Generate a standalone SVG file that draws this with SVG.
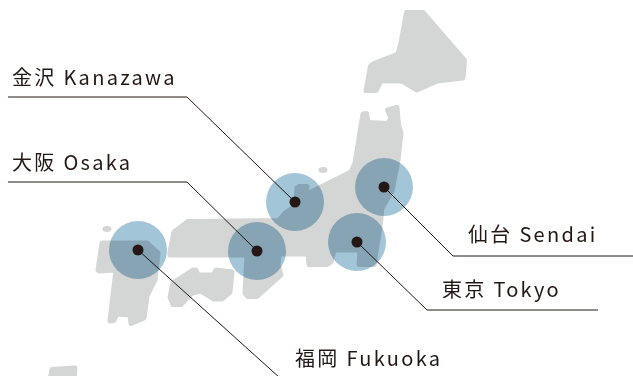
<svg xmlns="http://www.w3.org/2000/svg" width="633" height="376" viewBox="0 0 633 376">
<style>
.land{fill:#d4d5d5;stroke:#d4d5d5;stroke-width:5;stroke-linejoin:round}
.isle{fill:#d4d5d5}
.area{fill:#a3c5d8;mix-blend-mode:multiply}
.dot{fill:#231815}
.lead{fill:none;stroke:#231815;stroke-width:1}
text{font-family:"Noto Sans CJK JP","Noto Sans",sans-serif;font-size:20px;letter-spacing:2.3px;fill:#231815}
</style>
<rect width="633" height="376" fill="#fff"/>
<g id="map">
<path class="land" d="M406.500 12.500L423 12.500L464.500 60.500L463 78L437 81L417 90L402 81L381 81L376 90.500L366 90.500L370.500 66L374 63.500L398 54L401 43Z"/>
<path class="land" d="M363 114L366.500 113.500L368 122.500L388 123.500L391 118L387.500 110L397 107.500L398.500 125L401 133L398 160L392 191L382 208L380 227L374 264.500L359 264.500L360 250L334 250L331 262L327 264.500L309 264.500L308 254L279 254L278 265L281 275L257 296.500L248 296.500L245 293L247 255L170 255L170 252L174 232L188 221.500L279 220.500L285 213L296 205.500L297 188L299 186.500L307 186.500L305 195L351 172L355 163Z"/>
<path class="land" d="M170 297L173 283L193 270L196 270L198 275L213 275L216 270L232 272L230 292L222 299L214 299L201 291L192 293L181 304.500L173 304.500Z"/>
<path class="land" d="M102 243L147 243L158 253L155 280L147 296L144 318L131 323.500L130 315L117 314L114 320.500L110 321L116 270L99 271L98 270Z"/>
<path class="land" d="M52 369.500L75 368L74 380L50 380Z"/>
<ellipse class="isle" cx="323" cy="170" rx="4.500" ry="3"/>
<ellipse class="isle" cx="107" cy="229" rx="4.500" ry="3"/>
</g>
<g id="connectors">
<path class="lead" d="M8 97H187L295 202"/>
<path class="lead" d="M8 182H187L257 251"/>
<path class="lead" d="M384 187L453 256H633"/>
<path class="lead" d="M357 242L427 310H598"/>
<path class="lead" d="M138 250L280 378"/>
</g>
<g id="kanazawa"><circle class="area" cx="295" cy="202" r="29"/><circle class="dot" cx="295" cy="202" r="5.500"/><text x="12" y="85">金沢 Kanazawa</text></g>
<g id="osaka"><circle class="area" cx="257" cy="251" r="29"/><circle class="dot" cx="257" cy="251" r="5.500"/><text x="12" y="170">大阪 Osaka</text></g>
<g id="sendai"><circle class="area" cx="384" cy="187" r="29"/><circle class="dot" cx="384" cy="187" r="5.500"/><text x="468" y="242">仙台 Sendai</text></g>
<g id="tokyo"><circle class="area" cx="357" cy="242" r="29"/><circle class="dot" cx="357" cy="242" r="5.500"/><text x="442" y="297">東京 Tokyo</text></g>
<g id="fukuoka"><circle class="area" cx="138" cy="250" r="29"/><circle class="dot" cx="138" cy="250" r="5.500"/><text x="295" y="366">福岡 Fukuoka</text></g>
</svg>
